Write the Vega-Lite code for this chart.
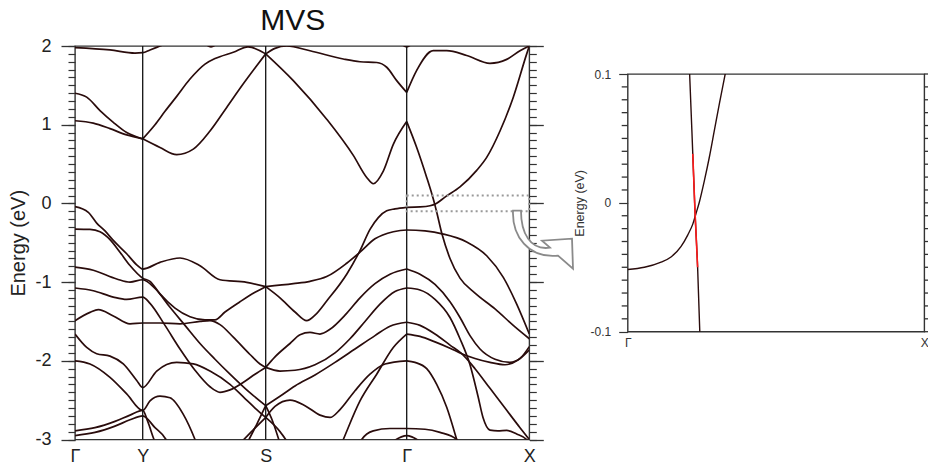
{
  "$schema": "https://vega.github.io/schema/vega-lite/v6.json",
  "background": "white",
  "padding": {"left": 8, "top": 5, "right": 0, "bottom": 0},
  "spacing": -6.3,
  "config": {
    "view": {"stroke": "#333", "strokeWidth": 1.4},
    "font": "Liberation Sans",
    "axis": {"labelFont": "Liberation Sans", "titleFont": "Liberation Sans"}
  },
  "datasets": {
    "tick": [{"k": 2, "E": 0}],
    "blank": [{"k": 0}],
    "zticks": [{"a":3.2922,"c":3.317,"E":-0.09},{"a":3.2922,"c":3.317,"E":-0.08},{"a":3.2922,"c":3.317,"E":-0.07},{"a":3.2922,"c":3.317,"E":-0.06},{"a":3.2922,"c":3.317,"E":-0.05},{"a":3.2922,"c":3.317,"E":-0.04},{"a":3.2922,"c":3.317,"E":-0.03},{"a":3.2922,"c":3.317,"E":-0.02},{"a":3.2922,"c":3.317,"E":-0.01},{"a":3.2922,"c":3.317,"E":0.01},{"a":3.2922,"c":3.317,"E":0.02},{"a":3.2922,"c":3.317,"E":0.03},{"a":3.2922,"c":3.317,"E":0.04},{"a":3.2922,"c":3.317,"E":0.05},{"a":3.2922,"c":3.317,"E":0.06},{"a":3.2922,"c":3.317,"E":0.07},{"a":3.2922,"c":3.317,"E":0.08},{"a":3.2922,"c":3.317,"E":0.09},
      {"a":4.543,"c":4.5616,"E":-0.1},{"a":4.543,"c":4.5616,"E":-0.09},{"a":4.543,"c":4.5616,"E":-0.08},{"a":4.543,"c":4.5616,"E":-0.07},{"a":4.543,"c":4.5616,"E":-0.06},{"a":4.543,"c":4.5616,"E":-0.05},{"a":4.543,"c":4.5616,"E":-0.04},{"a":4.543,"c":4.5616,"E":-0.03},{"a":4.543,"c":4.5616,"E":-0.02},{"a":4.543,"c":4.5616,"E":-0.01},{"a":4.543,"c":4.5616,"E":0},{"a":4.543,"c":4.5616,"E":0.01},{"a":4.543,"c":4.5616,"E":0.02},{"a":4.543,"c":4.5616,"E":0.03},{"a":4.543,"c":4.5616,"E":0.04},{"a":4.543,"c":4.5616,"E":0.05},{"a":4.543,"c":4.5616,"E":0.06},{"a":4.543,"c":4.5616,"E":0.07},{"a":4.543,"c":4.5616,"E":0.08},{"a":4.543,"c":4.5616,"E":0.09},{"a":4.543,"c":4.5616,"E":0.1}],
    "vlines": [{"k": 0.677}, {"k": 1.907}, {"k": 3.317}],
    "box": [{"k1": 3.317, "k2": 4.543, "E1": -0.1, "E2": 0.1}],
    "arrow": [{"k": 4.68, "E": -0.461}],
    "zoom": [
      {"b":"P","k":3.317,"E":-0.0517},{"b":"P","k":3.386,"E":-0.05},{"b":"P","k":3.455,"E":-0.046},{"b":"P","k":3.496,"E":-0.042},{"b":"P","k":3.537,"E":-0.034},{"b":"P","k":3.565,"E":-0.025},{"b":"P","k":3.586,"E":-0.0165},{"b":"P","k":3.599,"E":-0.0085},{"b":"P","k":3.613,"E":0.0005},{"b":"P","k":3.634,"E":0.0173},{"b":"P","k":3.654,"E":0.035},{"b":"P","k":3.675,"E":0.056},{"b":"P","k":3.696,"E":0.077},{"b":"P","k":3.72,"E":0.1},{"b":"P","k":3.74,"E":0.12},
      {"b":"S","k":3.568,"E":0.12},{"b":"S","k":3.573,"E":0.1},{"b":"S","k":3.586,"E":0.038},{"b":"S","k":3.595,"E":-0.006},{"b":"S","k":3.606,"E":-0.05},{"b":"S","k":3.615,"E":-0.1},{"b":"S","k":3.618,"E":-0.12}
    ],
    "red": [
      {"b":"R","k":3.586,"E":0.038},{"b":"R","k":3.595,"E":-0.006},{"b":"R","k":3.606,"E":-0.05}
    ],
    "bands": [
      {"b":"U1","k":0,"E":1.98},{"b":"U1","k":0.35,"E":1.95},{"b":"U1","k":0.6,"E":1.91},{"b":"U1","k":0.677,"E":1.915},{"b":"U1","k":0.75,"E":1.95},{"b":"U1","k":0.85,"E":2.0},{"b":"U1","k":0.95,"E":2.05},
      {"b":"U1b","k":1.28,"E":2.05},{"b":"U1b","k":1.36,"E":1.99},{"b":"U1b","k":1.44,"E":2.05},
      {"b":"U1c","k":3.25,"E":2.04},{"b":"U1c","k":3.317,"E":1.99},{"b":"U1c","k":3.38,"E":2.04},
      {"b":"U2","k":0,"E":1.4},{"b":"U2","k":0.117,"E":1.35},{"b":"U2","k":0.25,"E":1.18},{"b":"U2","k":0.383,"E":1.03},{"b":"U2","k":0.517,"E":0.9},{"b":"U2","k":0.677,"E":0.82},
      {"b":"U3","k":0,"E":1.05},{"b":"U3","k":0.183,"E":1.02},{"b":"U3","k":0.35,"E":0.95},{"b":"U3","k":0.517,"E":0.87},{"b":"U3","k":0.677,"E":0.82},
      {"b":"U4","k":0.677,"E":0.82},{"b":"U4","k":0.8,"E":1.0},{"b":"U4","k":0.9,"E":1.17},{"b":"U4","k":1.017,"E":1.36},{"b":"U4","k":1.15,"E":1.58},{"b":"U4","k":1.3,"E":1.77},{"b":"U4","k":1.4,"E":1.84},{"b":"U4","k":1.583,"E":1.92},{"b":"U4","k":1.73,"E":1.99},{"b":"U4","k":1.907,"E":1.9},
      {"b":"U5","k":0.677,"E":0.82},{"b":"U5","k":0.85,"E":0.71},{"b":"U5","k":1.017,"E":0.62},{"b":"U5","k":1.183,"E":0.69},{"b":"U5","k":1.35,"E":0.92},{"b":"U5","k":1.517,"E":1.22},{"b":"U5","k":1.683,"E":1.52},{"b":"U5","k":1.817,"E":1.75},{"b":"U5","k":1.907,"E":1.9},
      {"b":"U6","k":1.907,"E":1.9},{"b":"U6","k":2.0,"E":1.97},{"b":"U6","k":2.117,"E":2.0},{"b":"U6","k":2.35,"E":1.94},{"b":"U6","k":2.683,"E":1.835},{"b":"U6","k":2.85,"E":1.8},{"b":"U6","k":3.017,"E":1.79},{"b":"U6","k":3.117,"E":1.73},{"b":"U6","k":3.217,"E":1.56},{"b":"U6","k":3.317,"E":1.41},
      {"b":"U7","k":1.907,"E":1.9},{"b":"U7","k":2.183,"E":1.56},{"b":"U7","k":2.517,"E":1.07},{"b":"U7","k":2.783,"E":0.61},{"b":"U7","k":2.917,"E":0.33},{"b":"U7","k":2.983,"E":0.25},{"b":"U7","k":3.083,"E":0.41},{"b":"U7","k":3.183,"E":0.75},{"b":"U7","k":3.317,"E":1.04},
      {"b":"U8","k":3.317,"E":1.41},{"b":"U8","k":3.417,"E":1.69},{"b":"U8","k":3.583,"E":1.94},{"b":"U8","k":3.717,"E":1.94},{"b":"U8","k":3.917,"E":1.88},{"b":"U8","k":4.15,"E":1.78},{"b":"U8","k":4.317,"E":1.83},{"b":"U8","k":4.45,"E":1.94},{"b":"U8","k":4.543,"E":2.0},
      {"b":"U9","k":3.317,"E":1.04},{"b":"U9","k":3.417,"E":0.71},{"b":"U9","k":3.517,"E":0.33},{"b":"U9","k":3.573,"E":0.1},{"b":"U9","k":3.595,"E":0.0},{"b":"U9","k":3.615,"E":-0.1},{"b":"U9","k":3.67,"E":-0.39},{"b":"U9","k":3.75,"E":-0.7},{"b":"U9","k":3.85,"E":-0.95},{"b":"U9","k":4.0,"E":-1.14},{"b":"U9","k":4.2,"E":-1.34},{"b":"U9","k":4.4,"E":-1.57},{"b":"U9","k":4.543,"E":-1.72},
      {"b":"U10","k":3.317,"E":-0.05},{"b":"U10","k":3.45,"E":-0.045},{"b":"U10","k":3.55,"E":-0.03},{"b":"U10","k":3.613,"E":0.0},{"b":"U10","k":3.7,"E":0.08},{"b":"U10","k":3.85,"E":0.21},{"b":"U10","k":4.017,"E":0.42},{"b":"U10","k":4.117,"E":0.585},{"b":"U10","k":4.25,"E":0.92},{"b":"U10","k":4.383,"E":1.35},{"b":"U10","k":4.517,"E":1.9},{"b":"U10","k":4.543,"E":2.0},
      {"b":"L1","k":1.907,"E":-1.058},{"b":"L1","k":2.05,"E":-1.2},{"b":"L1","k":2.2,"E":-1.38},{"b":"L1","k":2.317,"E":-1.49},{"b":"L1","k":2.4,"E":-1.42},{"b":"L1","k":2.517,"E":-1.24},{"b":"L1","k":2.717,"E":-0.9},{"b":"L1","k":2.85,"E":-0.6},{"b":"L1","k":2.95,"E":-0.33},{"b":"L1","k":3.033,"E":-0.18},{"b":"L1","k":3.117,"E":-0.094},{"b":"L1","k":3.2,"E":-0.07},{"b":"L1","k":3.317,"E":-0.05},
      {"b":"L2","k":1.907,"E":-1.058},{"b":"L2","k":2.183,"E":-1.02},{"b":"L2","k":2.35,"E":-0.99},{"b":"L2","k":2.517,"E":-0.93},{"b":"L2","k":2.717,"E":-0.76},{"b":"L2","k":2.85,"E":-0.62},{"b":"L2","k":3.0,"E":-0.45},{"b":"L2","k":3.183,"E":-0.36},{"b":"L2","k":3.317,"E":-0.338},{"b":"L2","k":3.5,"E":-0.35},{"b":"L2","k":3.683,"E":-0.39},{"b":"L2","k":3.917,"E":-0.49},{"b":"L2","k":4.117,"E":-0.665},{"b":"L2","k":4.283,"E":-0.94},{"b":"L2","k":4.417,"E":-1.28},{"b":"L2","k":4.543,"E":-1.66},
      {"b":"L3","k":0,"E":-0.042},{"b":"L3","k":0.133,"E":-0.114},{"b":"L3","k":0.217,"E":-0.25},{"b":"L3","k":0.3,"E":-0.35},{"b":"L3","k":0.383,"E":-0.47},{"b":"L3","k":0.517,"E":-0.64},{"b":"L3","k":0.617,"E":-0.78},{"b":"L3","k":0.677,"E":-0.834},{"b":"L3","k":0.85,"E":-0.749},{"b":"L3","k":1.05,"E":-0.694},{"b":"L3","k":1.25,"E":-0.792},{"b":"L3","k":1.45,"E":-0.97},{"b":"L3","k":1.717,"E":-1.003},{"b":"L3","k":1.907,"E":-1.058},
      {"b":"L4","k":0,"E":-0.326},{"b":"L4","k":0.15,"E":-0.33},{"b":"L4","k":0.25,"E":-0.36},{"b":"L4","k":0.35,"E":-0.46},{"b":"L4","k":0.45,"E":-0.62},{"b":"L4","k":0.55,"E":-0.79},{"b":"L4","k":0.677,"E":-0.95},{"b":"L4","k":0.75,"E":-0.99},{"b":"L4","k":0.85,"E":-1.15},{"b":"L4","k":1.0,"E":-1.33},{"b":"L4","k":1.15,"E":-1.44},{"b":"L4","k":1.3,"E":-1.48},{"b":"L4","k":1.4,"E":-1.48},{"b":"L4","k":1.5,"E":-1.38},{"b":"L4","k":1.65,"E":-1.25},{"b":"L4","k":1.8,"E":-1.13},{"b":"L4","k":1.907,"E":-1.058},
      {"b":"L5","k":0,"E":-0.81},{"b":"L5","k":0.183,"E":-0.85},{"b":"L5","k":0.417,"E":-0.96},{"b":"L5","k":0.55,"E":-1.0},{"b":"L5","k":0.677,"E":-0.97},{"b":"L5","k":0.8,"E":-1.08},{"b":"L5","k":0.95,"E":-1.32},{"b":"L5","k":1.1,"E":-1.55},{"b":"L5","k":1.25,"E":-1.78},{"b":"L5","k":1.4,"E":-1.98},{"b":"L5","k":1.55,"E":-2.17},{"b":"L5","k":1.7,"E":-2.35},{"b":"L5","k":1.907,"E":-2.57},
      {"b":"L6","k":0,"E":-1.075},{"b":"L6","k":0.183,"E":-1.11},{"b":"L6","k":0.383,"E":-1.19},{"b":"L6","k":0.517,"E":-1.22},{"b":"L6","k":0.677,"E":-1.19},{"b":"L6","k":0.75,"E":-1.27},{"b":"L6","k":0.9,"E":-1.55},{"b":"L6","k":1.05,"E":-1.85},{"b":"L6","k":1.2,"E":-2.12},{"b":"L6","k":1.35,"E":-2.33},{"b":"L6","k":1.45,"E":-2.4},{"b":"L6","k":1.55,"E":-2.37},{"b":"L6","k":1.7,"E":-2.26},{"b":"L6","k":1.8,"E":-2.17},{"b":"L6","k":1.907,"E":-2.084},
      {"b":"L7","k":0,"E":-1.49},{"b":"L7","k":0.15,"E":-1.385},{"b":"L7","k":0.233,"E":-1.35},{"b":"L7","k":0.383,"E":-1.43},{"b":"L7","k":0.55,"E":-1.53},{"b":"L7","k":0.677,"E":-1.52},{"b":"L7","k":0.85,"E":-1.52},{"b":"L7","k":1.05,"E":-1.53},{"b":"L7","k":1.25,"E":-1.5},{"b":"L7","k":1.35,"E":-1.49},{"b":"L7","k":1.45,"E":-1.54},{"b":"L7","k":1.583,"E":-1.7},{"b":"L7","k":1.75,"E":-1.92},{"b":"L7","k":1.85,"E":-2.04},{"b":"L7","k":1.907,"E":-2.084},
      {"b":"L8","k":0,"E":-1.66},{"b":"L8","k":0.117,"E":-1.83},{"b":"L8","k":0.217,"E":-1.91},{"b":"L8","k":0.35,"E":-1.94},{"b":"L8","k":0.483,"E":-2.04},{"b":"L8","k":0.617,"E":-2.25},{"b":"L8","k":0.677,"E":-2.34},{"b":"L8","k":0.817,"E":-2.13},{"b":"L8","k":1.017,"E":-2.02},{"b":"L8","k":1.183,"E":-2.04},{"b":"L8","k":1.35,"E":-2.13},{"b":"L8","k":1.55,"E":-2.3},{"b":"L8","k":1.7,"E":-2.48},{"b":"L8","k":1.8,"E":-2.6},{"b":"L8","k":1.907,"E":-2.72},
      {"b":"L9","k":0,"E":-2.0},{"b":"L9","k":0.15,"E":-2.04},{"b":"L9","k":0.35,"E":-2.21},{"b":"L9","k":0.517,"E":-2.42},{"b":"L9","k":0.677,"E":-2.63},{"b":"L9","k":0.75,"E":-2.51},{"b":"L9","k":0.85,"E":-2.45},{"b":"L9","k":0.95,"E":-2.47},{"b":"L9","k":1.083,"E":-2.68},{"b":"L9","k":1.2,"E":-3.0},{"b":"L9","k":1.23,"E":-3.1},
      {"b":"L10","k":0,"E":-2.89},{"b":"L10","k":0.2,"E":-2.85},{"b":"L10","k":0.4,"E":-2.77},{"b":"L10","k":0.55,"E":-2.69},{"b":"L10","k":0.677,"E":-2.63},{"b":"L10","k":0.73,"E":-2.78},{"b":"L10","k":0.79,"E":-3.0},{"b":"L10","k":0.81,"E":-3.06},
      {"b":"L11","k":0,"E":-2.95},{"b":"L11","k":0.2,"E":-2.91},{"b":"L11","k":0.4,"E":-2.83},{"b":"L11","k":0.55,"E":-2.75},{"b":"L11","k":0.677,"E":-2.7},{"b":"L11","k":0.8,"E":-2.85},{"b":"L11","k":0.91,"E":-3.0},{"b":"L11","k":0.93,"E":-3.05},
      {"b":"Sin1","k":1.65,"E":-3.05},{"b":"Sin1","k":1.78,"E":-2.88},{"b":"Sin1","k":1.907,"E":-2.72},
      {"b":"Sin2","k":1.72,"E":-3.05},{"b":"Sin2","k":1.82,"E":-2.8},{"b":"Sin2","k":1.907,"E":-2.57},
      {"b":"Sout1","k":1.907,"E":-2.72},{"b":"Sout1","k":2.05,"E":-2.9},{"b":"Sout1","k":2.133,"E":-3.05},
      {"b":"Sout2","k":1.907,"E":-2.57},{"b":"Sout2","k":1.98,"E":-2.78},{"b":"Sout2","k":2.05,"E":-3.05},
      {"b":"Sa","k":1.907,"E":-2.084},{"b":"Sa","k":2.0,"E":-1.95},{"b":"Sa","k":2.15,"E":-1.78},{"b":"Sa","k":2.25,"E":-1.67},{"b":"Sa","k":2.35,"E":-1.64},{"b":"Sa","k":2.45,"E":-1.66},{"b":"Sa","k":2.55,"E":-1.6},{"b":"Sa","k":2.7,"E":-1.42},{"b":"Sa","k":2.85,"E":-1.2},{"b":"Sa","k":3.0,"E":-1.02},{"b":"Sa","k":3.15,"E":-0.9},{"b":"Sa","k":3.317,"E":-0.834},
      {"b":"Sb","k":1.907,"E":-2.084},{"b":"Sb","k":2.05,"E":-2.13},{"b":"Sb","k":2.2,"E":-2.12},{"b":"Sb","k":2.4,"E":-2.05},{"b":"Sb","k":2.6,"E":-1.9},{"b":"Sb","k":2.75,"E":-1.72},{"b":"Sb","k":2.9,"E":-1.5},{"b":"Sb","k":3.05,"E":-1.28},{"b":"Sb","k":3.2,"E":-1.12},{"b":"Sb","k":3.317,"E":-1.075},
      {"b":"Sc","k":1.907,"E":-2.57},{"b":"Sc","k":2.05,"E":-2.45},{"b":"Sc","k":2.2,"E":-2.32},{"b":"Sc","k":2.4,"E":-2.18},{"b":"Sc","k":2.6,"E":-2.02},{"b":"Sc","k":2.8,"E":-1.85},{"b":"Sc","k":3.0,"E":-1.68},{"b":"Sc","k":3.15,"E":-1.56},{"b":"Sc","k":3.317,"E":-1.51},
      {"b":"Sdip","k":1.907,"E":-2.72},{"b":"Sdip","k":2.0,"E":-2.58},{"b":"Sdip","k":2.15,"E":-2.5},{"b":"Sdip","k":2.3,"E":-2.57},{"b":"Sdip","k":2.45,"E":-2.69},{"b":"Sdip","k":2.55,"E":-2.72},{"b":"Sdip","k":2.65,"E":-2.62},{"b":"Sdip","k":2.8,"E":-2.38},{"b":"Sdip","k":2.95,"E":-2.17},{"b":"Sdip","k":3.1,"E":-2.04},{"b":"Sdip","k":3.317,"E":-2.0},
      {"b":"Sd","k":2.65,"E":-3.1},{"b":"Sd","k":2.683,"E":-3.0},{"b":"Sd","k":2.85,"E":-2.51},{"b":"Sd","k":3.017,"E":-2.17},{"b":"Sd","k":3.183,"E":-1.83},{"b":"Sd","k":3.317,"E":-1.66},
      {"b":"B083","k":3.317,"E":-0.834},{"b":"B083","k":3.45,"E":-0.9},{"b":"B083","k":3.6,"E":-1.03},{"b":"B083","k":3.75,"E":-1.25},{"b":"B083","k":3.85,"E":-1.45},{"b":"B083","k":3.95,"E":-1.68},{"b":"B083","k":4.05,"E":-1.85},{"b":"B083","k":4.2,"E":-1.98},{"b":"B083","k":4.35,"E":-2.02},{"b":"B083","k":4.45,"E":-1.97},{"b":"B083","k":4.543,"E":-1.82},
      {"b":"B107","k":3.317,"E":-1.075},{"b":"B107","k":3.45,"E":-1.1},{"b":"B107","k":3.6,"E":-1.22},{"b":"B107","k":3.75,"E":-1.45},{"b":"B107","k":3.85,"E":-1.72},{"b":"B107","k":3.95,"E":-2.05},{"b":"B107","k":4.03,"E":-2.45},{"b":"B107","k":4.08,"E":-2.72},{"b":"B107","k":4.15,"E":-2.88},{"b":"B107","k":4.23,"E":-2.89},{"b":"B107","k":4.317,"E":-2.885},{"b":"B107","k":4.417,"E":-2.93},{"b":"B107","k":4.517,"E":-3.0},{"b":"B107","k":4.55,"E":-3.05},
      {"b":"B151","k":3.317,"E":-1.51},{"b":"B151","k":3.45,"E":-1.55},{"b":"B151","k":3.6,"E":-1.66},{"b":"B151","k":3.75,"E":-1.8},{"b":"B151","k":3.867,"E":-1.91},{"b":"B151","k":4.0,"E":-2.1},{"b":"B151","k":4.15,"E":-2.35},{"b":"B151","k":4.3,"E":-2.6},{"b":"B151","k":4.45,"E":-2.85},{"b":"B151","k":4.543,"E":-3.0},
      {"b":"B166","k":3.317,"E":-1.66},{"b":"B166","k":3.45,"E":-1.69},{"b":"B166","k":3.6,"E":-1.76},{"b":"B166","k":3.75,"E":-1.84},{"b":"B166","k":3.867,"E":-1.91},{"b":"B166","k":4.0,"E":-1.97},{"b":"B166","k":4.15,"E":-2.02},{"b":"B166","k":4.3,"E":-2.05},{"b":"B166","k":4.43,"E":-1.99},{"b":"B166","k":4.543,"E":-1.86},
      {"b":"B200","k":3.317,"E":-2.0},{"b":"B200","k":3.4,"E":-2.02},{"b":"B200","k":3.517,"E":-2.1},{"b":"B200","k":3.617,"E":-2.3},{"b":"B200","k":3.717,"E":-2.59},{"b":"B200","k":3.817,"E":-3.0},{"b":"B200","k":3.84,"E":-3.1},
      {"b":"Bflat","k":2.83,"E":-3.1},{"b":"Bflat","k":2.867,"E":-3.0},{"b":"Bflat","k":2.983,"E":-2.89},{"b":"Bflat","k":3.15,"E":-2.86},{"b":"Bflat","k":3.317,"E":-2.86},{"b":"Bflat","k":3.5,"E":-2.87},{"b":"Bflat","k":3.65,"E":-2.91},{"b":"Bflat","k":3.817,"E":-3.0},{"b":"Bflat","k":3.85,"E":-3.05},
      {"b":"Bdome","k":3.15,"E":-3.05},{"b":"Bdome","k":3.317,"E":-2.95},{"b":"Bdome","k":3.48,"E":-3.05}
    ]
  },
  "hconcat": [
    {
      "title": {"text": "MVS", "fontSize": 30, "fontWeight": "normal", "font": "Liberation Sans", "color": "#111", "offset": 1, "frame": "bounds", "anchor": "middle"},
      "width": 454.3,
      "height": 393.5,
      "layer": [
        {
          "data": {"name": "bands"},
          "mark": {"type": "line", "interpolate": "monotone", "clip": true, "color": "#2a0c0c", "strokeWidth": 1.7},
          "encoding": {
            "x": {"field": "k", "type": "quantitative", "scale": {"domain": [0, 4.543], "nice": false, "zero": false},
              "axis": {"orient": "bottom", "values": [0, 0.677, 1.907, 3.317, 4.543], "labelExpr": "datum.value < 0.3 ? 'Γ' : datum.value < 1 ? 'Y' : datum.value < 2.5 ? 'S' : datum.value < 4 ? 'Γ' : 'X'", "ticks": false, "domain": false, "grid": false, "labelFontSize": 18, "labelColor": "#222", "labelPadding": 8, "labelFlush": false, "labelOverlap": false, "title": null}},
            "y": {"field": "E", "type": "quantitative", "scale": {"domain": [-3, 2], "nice": false, "zero": false},
              "axis": {"orient": "left", "values": [-3, -2, -1, 0, 1, 2], "tickSize": 14, "tickColor": "#333", "tickWidth": 1.3, "domain": false, "grid": false, "labelExpr": "'' + round(datum.value)", "labelFontSize": 18, "labelColor": "#222", "labelPadding": 10, "labelFlush": false, "labelOverlap": false, "title": "Energy (eV)", "titleFontSize": 20, "titleFontWeight": "normal", "titleColor": "#222", "titlePadding": 6}},
            "detail": {"field": "b"}
          }
        },
        {
          "data": {"name": "tick"},
          "mark": {"type": "point", "opacity": 0},
          "encoding": {
            "x": {"field": "k", "type": "quantitative", "axis": null},
            "y": {"field": "E", "type": "quantitative", "scale": {"domain": [-3, 2], "nice": false, "zero": false},
              "axis": {"orient": "left", "values": [-3,-2.9,-2.8,-2.7,-2.6,-2.5,-2.4,-2.3,-2.2,-2.1,-2,-1.9,-1.8,-1.7,-1.6,-1.5,-1.4,-1.3,-1.2,-1.1,-1,-0.9,-0.8,-0.7,-0.6,-0.5,-0.4,-0.3,-0.2,-0.1,0,0.1,0.2,0.3,0.4,0.5,0.6,0.7,0.8,0.9,1,1.1,1.2,1.3,1.4,1.5,1.6,1.7,1.8,1.9,2], "tickSize": 7, "tickColor": "#333", "tickWidth": 1.2, "domain": false, "grid": false, "labels": false, "title": null}}
          }
        },
        {
          "data": {"name": "tick"},
          "mark": {"type": "point", "opacity": 0},
          "encoding": {
            "x": {"field": "k", "type": "quantitative", "axis": null},
            "y": {"field": "E", "type": "quantitative", "scale": {"domain": [-3, 2], "nice": false, "zero": false},
              "axis": {"orient": "right", "values": [-3, -2, -1, 0, 1, 2], "tickSize": 14, "tickColor": "#333", "tickWidth": 1.3, "domain": false, "grid": false, "labels": false, "title": null}}
          }
        },
        {
          "data": {"name": "tick"},
          "mark": {"type": "point", "opacity": 0},
          "encoding": {
            "x": {"field": "k", "type": "quantitative", "axis": null},
            "y": {"field": "E", "type": "quantitative", "scale": {"domain": [-3, 2], "nice": false, "zero": false},
              "axis": {"orient": "right", "values": [-3,-2.9,-2.8,-2.7,-2.6,-2.5,-2.4,-2.3,-2.2,-2.1,-2,-1.9,-1.8,-1.7,-1.6,-1.5,-1.4,-1.3,-1.2,-1.1,-1,-0.9,-0.8,-0.7,-0.6,-0.5,-0.4,-0.3,-0.2,-0.1,0,0.1,0.2,0.3,0.4,0.5,0.6,0.7,0.8,0.9,1,1.1,1.2,1.3,1.4,1.5,1.6,1.7,1.8,1.9,2], "tickSize": 7, "tickColor": "#333", "tickWidth": 1.2, "domain": false, "grid": false, "labels": false, "title": null}}
          }
        },
        {
          "data": {"name": "vlines"},
          "mark": {"type": "rule", "color": "#111", "strokeWidth": 1.3},
          "encoding": {"x": {"field": "k", "type": "quantitative", "axis": null}}
        },
        {
          "data": {"name": "box"},
          "mark": {"type": "rect", "fillOpacity": 0, "stroke": "#999", "strokeWidth": 2, "strokeDash": [2, 3]},
          "encoding": {
            "x": {"field": "k1", "type": "quantitative", "axis": null},
            "x2": {"field": "k2"},
            "y": {"field": "E1", "type": "quantitative", "axis": null},
            "y2": {"field": "E2"}
          }
        },
        {
          "data": {"name": "arrow"},
          "mark": {"type": "point", "shape": "M-0.909,-0.879C-0.939,-0.121,-0.455,0.576,0.455,0.485L0.909,0.879L0.879,-0.03L-0.03,0.03L0.212,0.242C-0.394,0.333,-0.667,-0.212,-0.667,-0.879Z", "size": 4356, "filled": true, "fill": "white", "stroke": "#8a8a8a", "strokeWidth": 1.8, "opacity": 1, "clip": false},
          "encoding": {
            "x": {"field": "k", "type": "quantitative", "axis": null},
            "y": {"field": "E", "type": "quantitative", "axis": null}
          }
        }
      ],
      "resolve": {"axis": {"x": "independent", "y": "independent"}}
    },
    {
      "spacing": 0,
      "vconcat": [
        {
          "width": 296.6,
          "height": 21,
          "view": {"stroke": null},
          "data": {"name": "blank"},
          "mark": {"type": "point", "opacity": 0},
          "encoding": {"x": {"field": "k", "type": "quantitative", "axis": null}}
        },
        {
          "width": 296.6,
          "height": 257.7,
          "layer": [
            {
              "data": {"name": "zoom"},
              "mark": {"type": "line", "interpolate": "monotone", "clip": true, "color": "#2a0c0c", "strokeWidth": 1.4},
              "encoding": {
                "x": {"field": "k", "type": "quantitative", "scale": {"domain": [3.317, 4.543], "nice": false, "zero": false},
                  "axis": {"orient": "bottom", "values": [3.317, 4.543], "labelExpr": "datum.value < 4 ? 'Γ' : 'X'", "ticks": false, "domain": false, "grid": false, "labelFontSize": 12, "labelColor": "#333", "labelPadding": 6, "labelFlush": false, "labelOverlap": false, "title": null}},
                "y": {"field": "E", "type": "quantitative", "scale": {"domain": [-0.1, 0.1], "nice": false, "zero": false},
                  "axis": {"orient": "left", "values": [-0.1, 0, 0.1], "tickSize": 9, "tickColor": "#333", "tickWidth": 1.2, "domain": false, "grid": false, "labelExpr": "datum.value > 0.05 ? '0.1' : datum.value < -0.05 ? '-0.1' : '0'", "labelFontSize": 12, "labelColor": "#333", "labelPadding": 8, "labelFlush": false, "labelOverlap": false, "title": "Energy (eV)", "titleFontSize": 12.5, "titleFontWeight": "normal", "titleColor": "#333", "titlePadding": 4}},
                "detail": {"field": "b"}
              }
            },
            {
              "data": {"name": "zticks"},
              "mark": {"type": "rule", "color": "#333", "strokeWidth": 1.3, "clip": false},
              "encoding": {
                "x": {"field": "a", "type": "quantitative", "axis": null},
                "x2": {"field": "c"},
                "y": {"field": "E", "type": "quantitative", "axis": null}
              }
            },
            {
              "data": {"name": "red"},
              "mark": {"type": "line", "interpolate": "monotone", "clip": true, "color": "#ff1a1a", "strokeWidth": 1.6},
              "encoding": {
                "x": {"field": "k", "type": "quantitative", "axis": null},
                "y": {"field": "E", "type": "quantitative", "axis": null}
              }
            }
          ],
          "resolve": {"axis": {"x": "independent", "y": "independent"}}
        }
      ]
    }
  ]
}
